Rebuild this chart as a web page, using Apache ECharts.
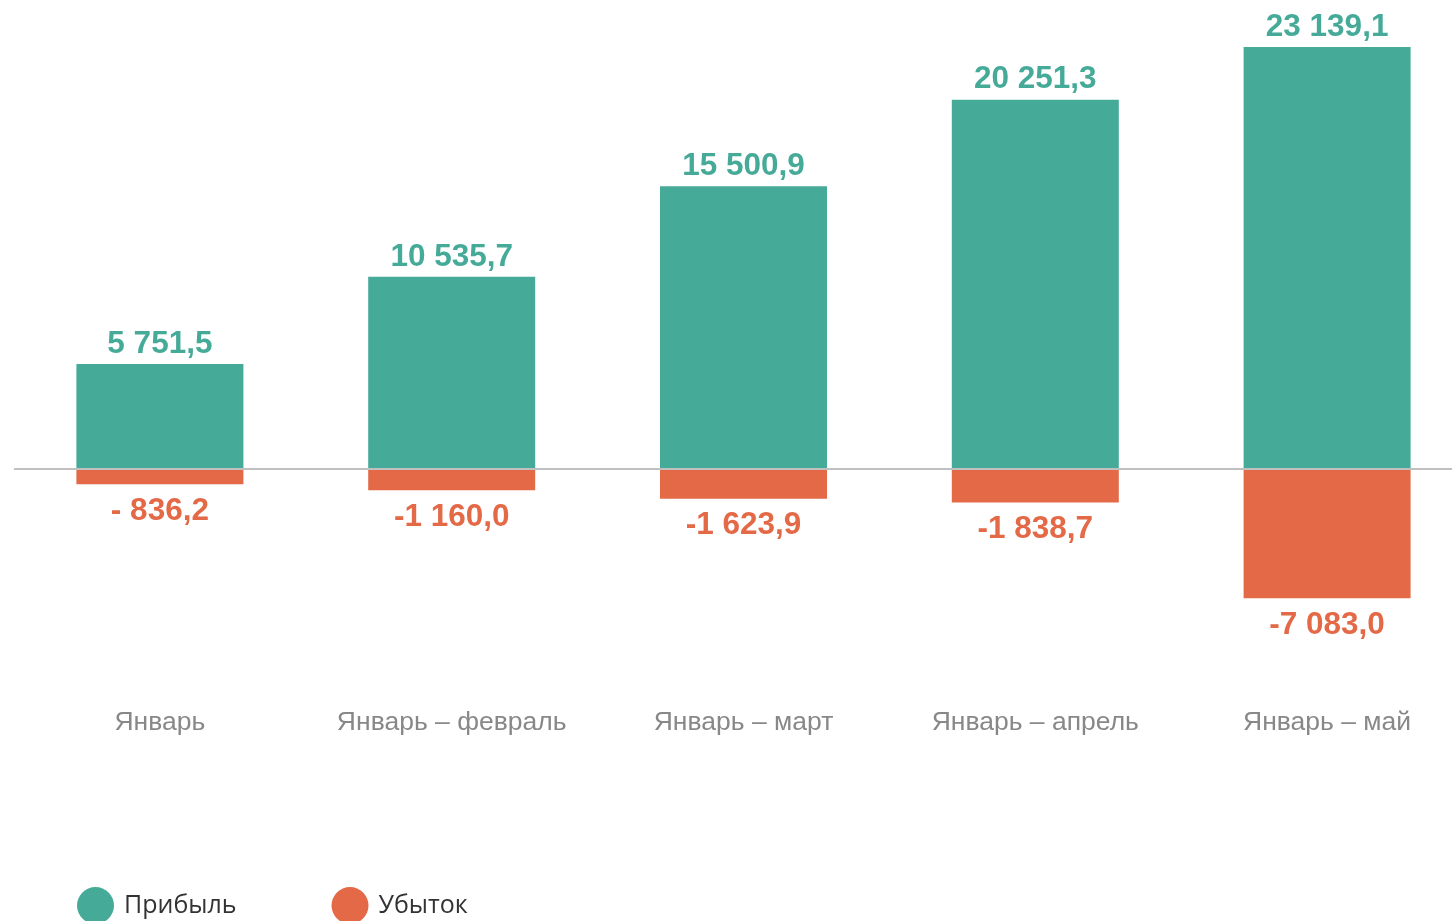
<!DOCTYPE html>
<html>
<head>
<meta charset="utf-8">
<script src="https://cdn.jsdelivr.net/npm/echarts@6/dist/echarts.min.js"></script>
<style>
  html, body { margin: 0; padding: 0; background: #fff; }
  #chart { width: 1452px; height: 921px; }
</style>
</head>
<body>
<div id="chart"></div>
<script>
// ==============================================
// DATOS
// ==============================================
const periodos = ['Январь', 'Январь – февраль', 'Январь – март', 'Январь – апрель', 'Январь – май'];
const pribyl = [5751.5, 10535.7, 15500.9, 20251.3, 23139.1];
const ubytok = [-836.2, -1160.0, -1623.9, -1838.7, -7083.0];
const pribylTxt = ['5 751,5', '10 535,7', '15 500,9', '20 251,3', '23 139,1'];
const ubytokTxt = ['- 836,2', '-1 160,0', '-1 623,9', '-1 838,7', '-7 083,0'];

const VERDE = '#46AA98';
const NARANJA = '#E36947';

const chart = echarts.init(document.getElementById('chart'));
chart.setOption({
    animation: false,
    grid: { left: 14, width: 1459, top: 31.3, height: 620.1, outerBoundsMode: 'none', containLabel: false },
    legend: {
        left: 72, top: 882,
        icon: 'circle', itemWidth: 37, itemHeight: 37, itemGap: 95,
        textStyle: { fontFamily: 'Open Sans', fontSize: 25, color: '#333', padding: [6, 0, 0, 5] },
        data: ['Прибыль', 'Убыток']
    },
    xAxis: {
        type: 'category',
        data: periodos,
        axisLine: { show: false, onZero: false },
        axisTick: { show: false },
        axisLabel: { interval: 0, margin: 58, fontFamily: 'Liberation Sans', fontSize: 26.5, color: '#888' }
    },
    yAxis: {
        type: 'value', min: -10000, max: 24000,
        axisLine: { show: false }, axisTick: { show: false },
        axisLabel: { show: false }, splitLine: { show: false }
    },
    series: [
        {
            name: 'Прибыль', type: 'bar', stack: 'total', barWidth: 167,
            data: pribyl,
            itemStyle: { color: VERDE },
            label: {
                show: true, position: 'top', distance: 4,
                fontFamily: 'Liberation Sans', fontWeight: 'bold', fontSize: 31.5, color: VERDE,
                formatter: p => pribylTxt[p.dataIndex]
            },
            markLine: {
                silent: true, symbol: 'none', z: 10,
                label: { show: false },
                lineStyle: { color: '#c0c0c0', width: 2, type: 'solid' },
                data: [{ yAxis: 0 }]
            }
        },
        {
            name: 'Убыток', type: 'bar', stack: 'total', barWidth: 167,
            data: ubytok,
            itemStyle: { color: NARANJA },
            label: {
                show: true, position: 'bottom', distance: 11,
                fontFamily: 'Liberation Sans', fontWeight: 'bold', fontSize: 31.5, color: NARANJA,
                formatter: p => ubytokTxt[p.dataIndex]
            }
        }
    ]
});
</script>
</body>
</html>
